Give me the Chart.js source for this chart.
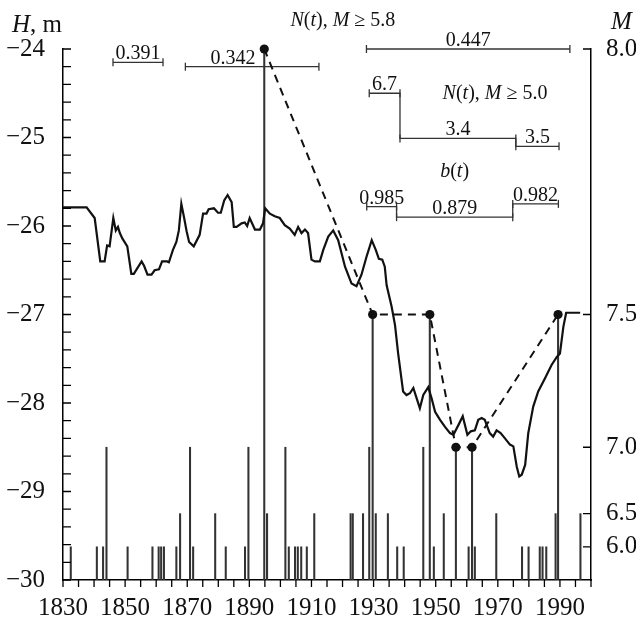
<!DOCTYPE html>
<html>
<head>
<meta charset="utf-8">
<title>Lake level and earthquakes</title>
<script src="https://cdn.jsdelivr.net/npm/chart.js@4.4.0/dist/chart.umd.min.js"></script>
<style>
  body { margin: 0; background: #fff; }
</style>
</head>
<body>
<canvas id="levelChart" width="636" height="623"></canvas>
<script>
// level H(t), m
const levelYears = [1830, 1837.6, 1840.2, 1842.0, 1843.4, 1844.2, 1845.0, 1846.2, 1847.0, 1847.7, 1848.3, 1849.1,
  1850.7, 1852.0, 1852.8, 1855.3, 1856.1, 1857.2, 1858.5, 1859.5, 1860.9, 1861.9, 1863.5, 1864.1, 1865.4,
  1866.5, 1867.3, 1868.1, 1868.9, 1869.8, 1870.6, 1872.1, 1874.0, 1875.1, 1876.2, 1876.9, 1878.6, 1879.9,
  1880.8, 1881.9, 1883.0, 1884.3, 1885.0, 1885.9, 1887.5, 1888.5, 1889.3, 1890.1, 1891.8, 1893.4, 1894.4,
  1895.1, 1896.6, 1898.2, 1899.8, 1901.4, 1903.0, 1904.6, 1905.7, 1906.8, 1907.9, 1908.9, 1910.0, 1911.1,
  1912.7, 1913.8, 1915.4, 1917.0, 1918.6, 1920.8, 1922.9, 1924.5, 1926.1, 1927.7, 1929.4, 1930.7, 1931.7,
  1932.8, 1933.6, 1934.2, 1935.8, 1936.9, 1937.9, 1939.5, 1940.6, 1941.7, 1942.8, 1943.9, 1944.9, 1946.0,
  1947.6, 1948.7, 1949.8, 1951.4, 1953.0, 1954.6, 1955.7, 1957.3, 1958.7, 1960.2, 1961.3, 1962.6, 1963.7,
  1964.8, 1965.8, 1967.4, 1968.5, 1969.6, 1970.9, 1972.3, 1973.9, 1975.0, 1976.1, 1976.9, 1977.7, 1978.8,
  1979.8, 1981.4, 1983.0, 1985.2, 1987.3, 1989.0, 1990.0, 1991.1, 1992.0, 1996.5];
const levels = [-25.79, -25.79, -25.91, -26.40, -26.40, -26.22, -26.23, -25.91, -26.05, -26.01, -26.08, -26.14,
  -26.23, -26.54, -26.54, -26.40, -26.45, -26.55, -26.55, -26.50, -26.49, -26.40, -26.40, -26.41, -26.27,
  -26.18, -26.05, -25.75, -25.89, -26.06, -26.18, -26.23, -26.10, -25.86, -25.86, -25.81, -25.80, -25.85,
  -25.85, -25.71, -25.65, -25.73, -26.01, -26.01, -25.97, -25.96, -26.00, -25.91, -26.04, -26.04, -25.97,
  -25.80, -25.86, -25.89, -25.91, -25.99, -26.03, -26.10, -26.01, -26.08, -26.04, -26.08, -26.38, -26.40,
  -26.40, -26.27, -26.12, -26.05, -26.16, -26.46, -26.65, -26.68, -26.55, -26.35, -26.16, -26.27, -26.37,
  -26.38, -26.46, -26.67, -26.91, -27.12, -27.44, -27.87, -27.91, -27.89, -27.83, -27.95, -28.06, -27.91,
  -27.82, -27.95, -28.10, -28.19, -28.27, -28.34, -28.36, -28.25, -28.15, -28.36, -28.32, -28.31, -28.19,
  -28.17, -28.19, -28.34, -28.38, -28.31, -28.34, -28.40, -28.47, -28.49, -28.72, -28.83, -28.81, -28.70,
  -28.34, -28.04, -27.87, -27.72, -27.57, -27.48, -27.44, -27.14, -26.98, -26.98];

// earthquakes, magnitude M
const quakeYears = [1832.5, 1840.9, 1842.9, 1844.0, 1850.8, 1858.8, 1860.8, 1861.6, 1862.5, 1866.5, 1867.7,
  1870.9, 1871.9, 1879.0, 1882.4, 1888.6, 1889.7, 1895.7, 1901.6, 1902.7, 1904.7, 1905.6, 1906.7, 1908.5,
  1910.9, 1922.6, 1923.3, 1926.6, 1928.6, 1930.7, 1934.6, 1937.6, 1939.7, 1946.0, 1949.4, 1952.6, 1960.6,
  1962.6, 1969.5, 1977.8, 1979.9, 1983.5, 1984.4, 1985.6, 1988.6, 1996.6];
const quakeMags = [6.0, 6.0, 6.0, 7.0, 6.0, 6.0, 6.0, 6.0, 6.0, 6.0, 6.5,
  7.0, 6.0, 6.5, 6.0, 6.0, 7.0, 6.5, 7.0, 6.0, 6.0, 6.0, 6.0, 6.0,
  6.5, 6.5, 6.5, 6.5, 7.0, 6.5, 6.5, 6.0, 6.0, 7.0, 6.0, 6.5, 6.0,
  6.0, 6.5, 6.0, 6.0, 6.0, 6.0, 6.0, 6.5, 6.5];

// strongest events, joined by the dashed line
const bigYears = [1894.8, 1929.7, 1948.1, 1956.5, 1961.7, 1989.4];
const bigMags = [8.0, 7.5, 7.5, 7.0, 7.0, 7.5];

// right axis (M) tick labels
const magTicks = [6.0, 6.5, 7.0, 7.5, 8.0];

// N(t), M >= 5.8 intervals
const n58Labels = ['0.391', '0.342', '0.447'];
const n58Start = [1846.1, 1869.4, 1927.7];
const n58End = [1862.2, 1912.4, 1993.2];
const n58Level = [-24.15, -24.20, -24.0];

// N(t), M >= 5.0 steps
const n50Labels = ['6.7', '3.4', '3.5'];
const n50Bounds = [1928.6, 1938.5, 1975.8, 1989.7];
const n50Level = [-24.50, -25.01, -25.10];

// b(t) steps
const bLabels = ['0.985', '0.879', '0.982'];
const bBounds = [1927.8, 1937.4, 1974.8, 1989.5];
const bLevel = [-25.78, -25.90, -25.75];

// M axis is drawn on the H scale: every half unit of M halves the distance to the bottom
function mToH(m) { return -30 + 6 * Math.pow(4, m - 8); }

const FONT = '"Liberation Serif", "DejaVu Serif", serif';

function stepPoints(bounds, lv) {
  const pts = [];
  for (let i = 0; i < lv.length; i++) {
    pts.push({x: bounds[i], y: lv[i]});
    pts.push({x: bounds[i + 1], y: lv[i]});
  }
  return pts;
}

const segStyle = {
  type: 'line', borderColor: '#333', borderWidth: 1.3, pointStyle: 'line', rotation: 90,
  pointRadius: 4, pointBorderColor: '#333', pointBorderWidth: 1.3, clip: false, order: 2
};

const datasets = [
  {
    type: 'line',
    data: levelYears.map((yr, i) => ({x: yr, y: levels[i]})),
    borderColor: '#111', borderWidth: 2.2, pointRadius: 0, tension: 0, order: 1
  },
  {
    type: 'line',
    data: bigYears.map((yr, i) => ({x: yr, y: mToH(bigMags[i])})),
    borderColor: '#111', borderWidth: 2, borderDash: [8, 6], pointRadius: 4.6, pointBorderWidth: 0,
    pointBackgroundColor: '#111', pointBorderColor: '#111', clip: false, order: 0
  },
  {
    type: 'bar',
    data: quakeYears.concat(bigYears).map((yr, i) => ({x: yr, y: [-30, mToH(quakeMags.concat(bigMags)[i])]})),
    backgroundColor: '#333', borderWidth: 0, barThickness: 1.4, order: 3
  }
];
n58Labels.forEach((lab, i) => {
  datasets.push(Object.assign({}, segStyle, {
    data: [{x: n58Start[i], y: n58Level[i]}, {x: n58End[i], y: n58Level[i]}]
  }));
});
datasets.push(Object.assign({}, segStyle, {data: stepPoints(n50Bounds, n50Level)}));
datasets.push(Object.assign({}, segStyle, {data: stepPoints(bBounds, bLevel)}));

function richText(ctx, parts, cx, cy, size, align) {
  let total = 0;
  parts.forEach(p => {
    ctx.font = (p[1] ? 'italic ' : '') + size + 'px ' + FONT;
    total += ctx.measureText(p[0]).width;
  });
  let x = align === 'left' ? cx : cx - total / 2;
  ctx.textAlign = 'left';
  ctx.textBaseline = 'middle';
  parts.forEach(p => {
    ctx.font = (p[1] ? 'italic ' : '') + size + 'px ' + FONT;
    ctx.fillText(p[0], x, cy);
    x += ctx.measureText(p[0]).width;
  });
}

const decorations = {
  id: 'decorations',
  afterDraw(chart) {
    const {ctx, chartArea: a, scales: {x, y, y2}} = chart;
    ctx.save();
    ctx.strokeStyle = '#000';
    ctx.lineWidth = 1.3;
    ctx.beginPath();
    x.ticks.forEach(t => { const px = x.getPixelForValue(t.value); ctx.moveTo(px, a.bottom); ctx.lineTo(px, a.bottom + 7); });
    y.ticks.forEach(t => { const py = y.getPixelForValue(t.value); ctx.moveTo(a.left, py); ctx.lineTo(a.left + 8, py); });
    y2.ticks.forEach(t => { const py = y2.getPixelForValue(t.value); ctx.moveTo(a.right - 8, py); ctx.lineTo(a.right, py); });
    ctx.stroke();

    // interval values above their segments
    ctx.fillStyle = '#111';
    ctx.font = '20px ' + FONT;
    ctx.textAlign = 'center';
    ctx.textBaseline = 'alphabetic';
    const put = (txt, yr, lv) => ctx.fillText(txt, x.getPixelForValue(yr), y.getPixelForValue(lv) - 3);
    n58Labels.forEach((lab, i) => {
      const mid = i === 1 ? 1884.7 : (n58Start[i] + n58End[i]) / 2;
      put(lab, mid, n58Level[i]);
    });
    n50Labels.forEach((lab, i) => put(lab, (n50Bounds[i] + n50Bounds[i + 1]) / 2, n50Level[i]));
    bLabels.forEach((lab, i) => put(lab, (bBounds[i] + bBounds[i + 1]) / 2, bLevel[i]));

    richText(ctx, [['N', 1], ['(', 0], ['t', 1], ['), ', 0], ['M', 1], [' \u2265 5.8', 0]],
      x.getPixelForValue(1920.1), a.top - 28, 20);
    richText(ctx, [['N', 1], ['(', 0], ['t', 1], ['), ', 0], ['M', 1], [' \u2265 5.0', 0]],
      x.getPixelForValue(1969.1), y.getPixelForValue(-24.50), 20);
    richText(ctx, [['b', 1], ['(', 0], ['t', 1], [')', 0]],
      x.getPixelForValue(1956.1), y.getPixelForValue(-25.39), 20);

    richText(ctx, [['H', 1], [', m', 0]], 12, 25, 25, 'left');
    richText(ctx, [['M', 1]], a.right + 20, 22, 25, 'left');
    ctx.restore();
  }
};

new Chart(document.getElementById('levelChart'), {
  type: 'line',
  data: {datasets: datasets},
  options: {
    responsive: false,
    animation: false,
    layout: {padding: {top: 49, left: 0, right: 0, bottom: 0}},
    plugins: {legend: {display: false}, tooltip: {enabled: false}},
    scales: {
      x: {
        type: 'linear', min: 1830, max: 2000, offset: false,
        grid: {display: false},
        border: {display: true, color: '#000', width: 1.5},
        ticks: {
          stepSize: 5, autoSkip: false, maxRotation: 0, padding: 5, color: '#111',
          font: {family: FONT, size: 25},
          callback: v => ((v - 1830) % 20 === 0 ? String(v) : '')
        },
        afterFit: s => { s.height = 43; }
      },
      y: {
        type: 'linear', position: 'left', min: -30, max: -24,
        grid: {display: false},
        border: {display: true, color: '#000', width: 1.5},
        ticks: {
          stepSize: 0.2, autoSkip: false, padding: 10, color: '#111',
          font: {family: FONT, size: 25},
          callback: v => (Math.abs(v - Math.round(v)) < 1e-6 ? '\u2212' + Math.abs(Math.round(v)) : '')
        },
        afterFit: s => { s.width = 63; }
      },
      y2: {
        type: 'linear', position: 'right', min: -30, max: -24,
        grid: {display: false},
        border: {display: true, color: '#000', width: 1.5},
        afterBuildTicks: s => { s.ticks = magTicks.map(m => ({value: mToH(m)})); },
        ticks: {
          autoSkip: false, padding: 7, color: '#111',
          font: {family: FONT, size: 25},
          callback: (v, i) => magTicks[i].toFixed(1)
        },
        afterFit: s => { s.width = 45; }
      }
    }
  },
  plugins: [decorations]
});
</script>
</body>
</html>
